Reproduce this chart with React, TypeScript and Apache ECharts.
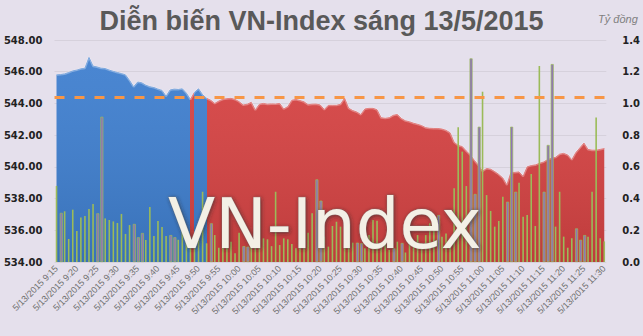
import React, { useEffect, useRef } from "react";
import * as echarts from "echarts";

// ---- Data ----
const referencePrice = 544.36; // previous close (orange dashed line)

// VN-Index per minute, 9:15 .. 11:30
const indexValues: number[] = [
  545.8, 545.82, 545.86, 545.95, 546.05, 546.1, 546.18, 546.22, 546.9, 546.35,
  546.3, 546.22, 546.2, 546.1, 546.02, 545.95, 545.88, 545.8, 545.45, 545.05,
  545.35, 545.3, 545.15, 545.05, 545.0, 544.9, 544.82, 544.45, 544.85, 544.9,
  544.88, 544.92, 544.65, 544.25, 544.7, 544.92, 544.55, 544.32, 544.2, 544.0,
  544.15, 544.26, 544.3, 544.32, 544.25, 544.11, 543.9, 543.95, 544.07, 543.59,
  543.95, 544.0, 543.95, 543.97, 543.96, 544.0, 543.65, 543.8, 544.2, 544.25,
  544.18, 544.1, 543.92, 543.95, 543.96, 543.9, 543.62, 543.88, 543.88, 543.88,
  543.95, 544.33, 543.7, 543.55, 543.46, 543.3, 543.65, 543.69, 543.69, 543.6,
  543.1, 543.06, 543.1, 543.25, 543.3, 543.05, 542.9, 542.84, 542.75, 542.68,
  542.6, 542.47, 542.43, 542.42, 542.42, 542.38, 542.3, 542.15, 541.55, 541.35,
  541.28, 541.0, 540.75, 540.4, 540.1, 539.72, 539.9, 539.85, 539.7, 539.52,
  539.3, 538.86, 539.65, 539.65, 539.68, 539.4, 540.0, 540.08, 540.12, 540.22,
  540.3, 540.45, 540.55, 540.6, 540.8, 540.85, 540.75, 540.45, 540.9, 541.2,
  541.5, 541.1, 541.05, 541.05, 541.1, 541.15,
];

// Traded value per minute (tỷ đồng)
const volumes: number[] = [
  0.48, 0.31, 0.32, 0.145, 0.33, 0.195, 0.28, 0.29, 0.334, 0.366,
  0.307, 0.916, 0.275, 0.265, 0.256, 0.246, 0.303, 0.177, 0.233, 0.24,
  0.156, 0.183, 0.139, 0.347, 0.164, 0.259, 0.221, 0.164, 0.17, 0.156,
  0.14, 0.25, 0.2, 0.13, 0.11, 0.14, 0.443, 0.118, 0.244, 0.17,
  0.09, 0.181, 0.244, 0.128, 0.055, 0.185, 0.1, 0.097, 0.107, 0.139,
  0.37, 0.149, 0.143, 0.1, 0.443, 0.107, 0.149, 0.143, 0.113, 0.086,
  0.097, 0.156, 0.185, 0.307, 0.521, 0.387, 0.16, 0.097, 0.227, 0.254,
  0.223, 0.097, 0.118, 0.122, 0.122, 0.118, 0.086, 0.17, 0.265, 0.26,
  0.097, 0.128, 0.076, 0.086, 0.128, 0.12, 0.06, 0.181, 0.128, 0.17,
  0.118, 0.17, 0.244, 0.21, 0.296, 0.16, 0.18, 0.11, 0.465, 0.849,
  0.696, 0.479, 1.284, 0.429, 0.853, 1.074, 0.422, 0.322, 0.223, 0.259,
  0.412, 0.38, 0.853, 0.443, 0.5, 0.286, 0.296, 0.555, 0.227, 1.236,
  0.443, 0.738, 1.248, 0.223, 0.443, 0.16, 0.09, 0.15, 0.212, 0.14,
  0.17, 0.16, 0.443, 0.912, 0.15, 0.13,
];

// minutes whose bar is drawn purple (green-bordered)
const purpleBars: number[] = [
  1, 10, 11, 19, 20, 21, 28, 29, 38, 46, 47, 64, 65, 74, 75, 83, 85, 94,
  102, 103, 104, 111, 112, 113, 120, 121, 122, 128, 129, 130,
];

const leftTicks = { min: 534, max: 548, step: 2 };
const rightTicks = { min: 0, max: 1.4, step: 0.2 };

const timeLabels: string[] = (() => {
  const out: string[] = [];
  for (let m = 9 * 60 + 15; m <= 11 * 60 + 30; m++) {
    const h = Math.floor(m / 60);
    const mm = m % 60;
    out.push(`5/13/2015 ${h}:${String(mm).padStart(2, "0")}`);
  }
  return out;
})();

const BLUE = "#3f7fcf";
const RED = "#d64343";

export default function App() {
  const ref = useRef<HTMLDivElement>(null);
  useEffect(() => {
    document.body.style.margin = "0";
    const chart = echarts.init(ref.current!, null, { renderer: "svg" });

    // colour sections: blue above reference, red below
    const above = (k: number) => indexValues[k] >= referencePrice;
    const pieces: any[] = [];
    let start = 0;
    for (let i = 1; i <= indexValues.length; i++) {
      if (i === indexValues.length || above(i) !== above(start)) {
        pieces.push({ gte: start - 0.5, lt: i - 0.5, color: above(start) ? BLUE : RED });
        start = i;
      }
    }
    pieces[0].gte = -1000;
    pieces[pieces.length - 1].lt = 1000;

    const purpleData = volumes.map((v, i) => (purpleBars.includes(i) ? v : "-"));
    const greenData = volumes.map((v, i) => (purpleBars.includes(i) ? "-" : v));

    chart.setOption({
      animation: false,
      backgroundColor: "#e5e0ec",
      grid: { left: 54.5, right: 33, top: 40, bottom: 74 },
      visualMap: {
        type: "piecewise",
        show: false,
        dimension: 0,
        seriesIndex: 0,
        pieces,
      },
      xAxis: {
        type: "category",
        data: timeLabels,
        boundaryGap: true,
        axisLine: { show: false },
        axisTick: { show: false },
        axisLabel: {
          interval: 4,
          rotate: 45,
          fontSize: 9,
          color: "#707070",
          margin: 5,
          fontFamily: "Liberation Sans",
        },
      },
      yAxis: [
        {
          type: "value",
          min: leftTicks.min,
          max: leftTicks.max,
          interval: leftTicks.step,
          position: "left",
          axisLine: { show: false },
          axisTick: { show: false },
          axisLabel: {
            formatter: (v: number) => v.toFixed(2),
            fontSize: 10,
            fontWeight: "bold",
            color: "#222222",
            fontFamily: "DejaVu Sans",
            margin: 12,
          },
          splitLine: { lineStyle: { color: "#d6d1dc", width: 1 } },
        },
        {
          type: "value",
          min: rightTicks.min,
          max: rightTicks.max,
          interval: rightTicks.step,
          position: "right",
          axisLine: { show: false },
          axisTick: { show: false },
          axisLabel: {
            formatter: (v: number) => v.toFixed(1),
            fontSize: 10,
            fontWeight: "bold",
            color: "#222222",
            fontFamily: "DejaVu Sans",
            margin: 16,
          },
          splitLine: { show: false },
        },
      ],
      series: [
        {
          name: "VN-Index",
          type: "line",
          data: indexValues,
          symbol: "none",
          z: 1,
          lineStyle: { width: 1 },
          areaStyle: { opacity: 1, origin: "start" },
          markLine: {
            silent: true,
            symbol: ["none", "none"],
            label: { show: false },
            lineStyle: { color: "#f79646", width: 3, type: [10, 10] },
            data: [{ yAxis: referencePrice }],
          },
        },
        {
          name: "shade",
          type: "line",
          data: indexValues,
          symbol: "none",
          z: 2,
          lineStyle: { width: 2, color: "rgba(255,255,255,0.3)" },
          areaStyle: {
            origin: "start",
            color: new echarts.graphic.LinearGradient(0, 0, 0, 1, [
              { offset: 0, color: "rgba(255,255,255,0.08)" },
              { offset: 1, color: "rgba(0,0,0,0.16)" },
            ]),
          },
        },
        {
          name: "Giá trị (tím)",
          type: "bar",
          yAxisIndex: 1,
          data: purpleData,
          barWidth: 3,
          barGap: "-100%",
          z: 4,
          itemStyle: { color: "#8f74b8", borderColor: "#9bbb59", borderWidth: 0.7 },
        },
        {
          name: "Giá trị",
          type: "bar",
          yAxisIndex: 1,
          data: greenData,
          barWidth: 1.6,
          barGap: "-100%",
          z: 4,
          itemStyle: { color: "#9bbb59" },
        },
      ],
      graphic: [
        {
          type: "text",
          z: 100,
          style: {
            text: "Diễn biến VN-Index sáng 13/5/2015",
            x: 321.5,
            y: 21,
            align: "center",
            verticalAlign: "middle",
            font: "bold 27px 'Liberation Sans'",
            fill: "#595959",
          },
        },
        {
          type: "text",
          z: 100,
          style: {
            text: "Tỷ đồng",
            x: 598,
            y: 19,
            align: "left",
            verticalAlign: "middle",
            font: "italic 11px 'Liberation Sans'",
            fill: "#7f7f7f",
          },
        },
        {
          type: "text",
          z: 100,
          silent: true,
          style: {
            text: "VN-Index",
            x: 168,
            y: 224,
            align: "left",
            verticalAlign: "middle",
            font: "69px 'DejaVu Sans'",
            fill: "#f3f0e6",
            stroke: "rgba(110,110,110,0.5)",
            lineWidth: 1,
            textShadowBlur: 4,
            textShadowColor: "rgba(40,40,40,0.6)",
            textShadowOffsetX: 1,
            textShadowOffsetY: 1,
          },
        },
      ],
    });
    return () => chart.dispose();
  }, []);
  return <div ref={ref} style={{ width: 643, height: 336 }} />;
}
